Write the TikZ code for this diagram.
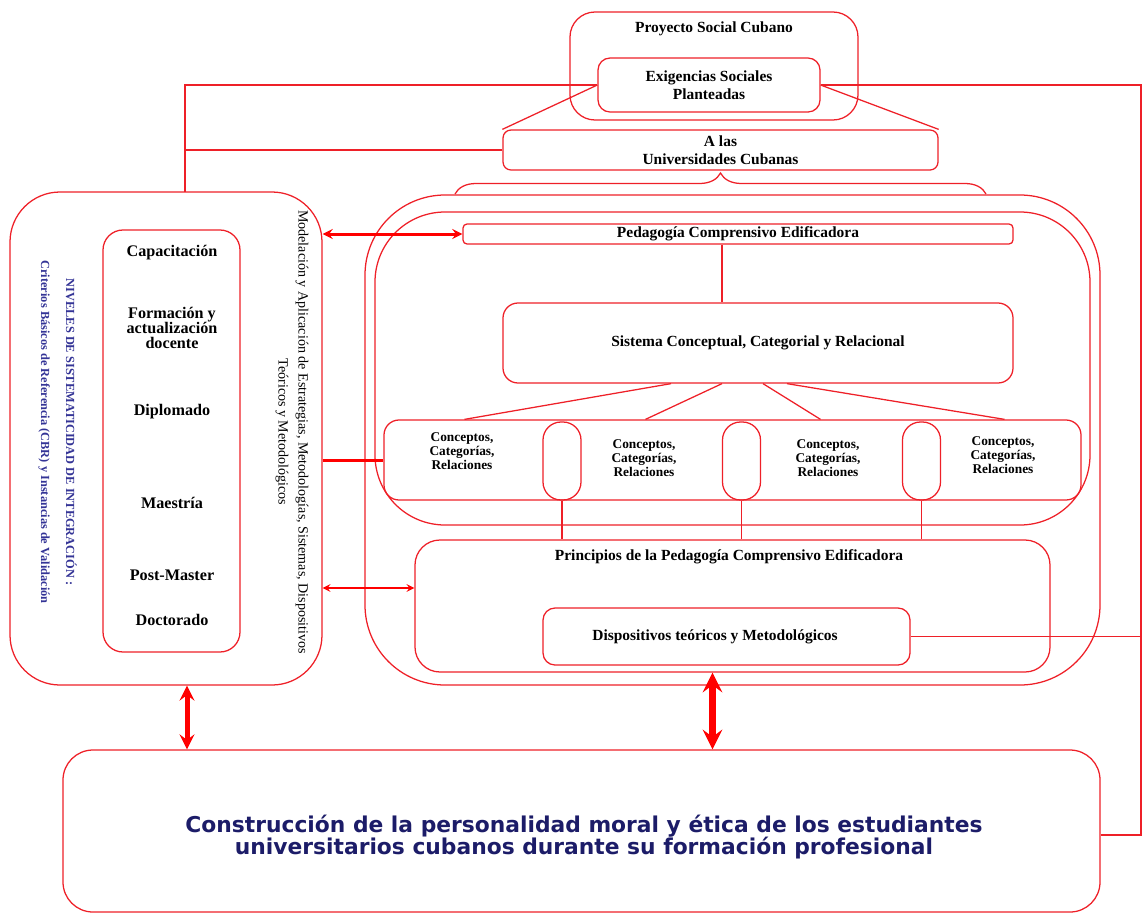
\documentclass[tikz,border=0pt]{standalone}
\usepackage{fontspec}
\setmainfont{Liberation Serif}
\newfontfamily\widesans{DejaVu Sans}
\usetikzlibrary{decorations.pathreplacing}

\definecolor{lnred}{RGB}{238,32,40}
\definecolor{navy}{RGB}{28,28,104}
\definecolor{nivblue}{RGB}{52,52,150}

\newdimen\px \px=0.025cm

\tikzset{
  box/.style={draw=lnred, line width=0.9pt, rounded corners=#1, inner sep=0pt},
  box/.default=8pt,
  ln/.style={draw=lnred, line width=0.9pt},
  lbl/.style={font=\fontsize{11}{12.5}\selectfont\bfseries, align=center, inner sep=0pt},
  ctxt/.style={font=\fontsize{9.5}{9.8}\selectfont\bfseries, align=center, inner sep=0pt},
  lvtxt/.style={font=\fontsize{11.5}{10.8}\selectfont\bfseries, align=center, inner sep=0pt},
  rottxt/.style={rotate=-90, align=center, inner sep=0pt},
  harrow/.style={<->, >=stealth, draw=red, line width=3\px},
  varrow/.style={<->, >=stealth, draw=red, line width=5\px}
}

\begin{document}
\begin{tikzpicture}[x=0.025cm, y=-0.025cm]
\useasboundingbox (0,0) rectangle (1144,915);

% cabecera
\node[box=25\px, minimum width=288\px, minimum height=108\px] (proy) at (714,66) {};
\node[lbl] (proyt) at (714,29) {Proyecto Social Cubano};
\node[box=12\px, lbl, minimum width=222\px, minimum height=54\px] (exig) at (709,85) {Exigencias Sociales\\Planteadas};
\node[box=8\px, lbl, minimum width=435\px, minimum height=40\px] (univ) at (720.5,150) {A las\\Universidades Cubanas};

\coordinate (jl) at (185,192);
\coordinate (jr) at (1141,835);
\coordinate (bl) at (455,194);
\coordinate (br) at (986,194);

% marco de la pedagogia
\node[box=80\px, minimum width=735\px, minimum height=490\px] (marco) at (732.5,440) {};
\node[box=70\px, minimum width=715\px, minimum height=313\px] (nucleo) at (732.5,368.5) {};
\node[box=4\px, lbl, minimum width=550\px, minimum height=20\px] (peda) at (738,234) {Pedagogía Comprensivo Edificadora};
\node[box=15\px, lbl, minimum width=510\px, minimum height=80\px] (sist) at (758,343) {Sistema Conceptual, Categorial y Relacional};
\node[box=15\px, minimum width=697\px, minimum height=80\px] (conc) at (732.5,460) {};
\node[box=18\px, minimum width=38\px, minimum height=78\px] (cap1) at (562,461) {};
\node[box=18\px, minimum width=38\px, minimum height=78\px] (cap2) at (741.5,461) {};
\node[box=18\px, minimum width=38\px, minimum height=78\px] (cap3) at (921.5,461) {};
\node[ctxt] (ct1) at (462,451) {Conceptos,\\Categorías,\\Relaciones};
\node[ctxt] (ct2) at (644,458) {Conceptos,\\Categorías,\\Relaciones};
\node[ctxt] (ct3) at (828,458) {Conceptos,\\Categorías,\\Relaciones};
\node[ctxt] (ct4) at (1003,455) {Conceptos,\\Categorías,\\Relaciones};

\node[box=25\px, minimum width=635\px, minimum height=132\px] (princ) at (732.5,606) {};
\node[lbl] (princt) at (729,557) {Principios de la Pedagogía Comprensivo Edificadora};
\node[box=12\px, minimum width=367\px, minimum height=57\px] (disp) at (726.5,636.5) {};
\node[lbl] (dispt) at (715,637) {Dispositivos teóricos y Metodológicos};

% niveles
\node[box=50\px, minimum width=312\px, minimum height=493\px] (niv) at (166,438.5) {};
\node[box=20\px, minimum width=137\px, minimum height=422\px] (lev) at (171.5,441) {};
\node[lvtxt] (lv1) at (172,253) {Capacitación};
\node[lvtxt] (lv2) at (172,328) {Formación y\\actualización\\docente};
\node[lvtxt] (lv3) at (172,412) {Diplomado};
\node[lvtxt] (lv4) at (172,503) {Maestría};
\node[lvtxt] (lv5) at (172,575) {Post-Master};
\node[lvtxt] (lv6) at (172,620) {Doctorado};
\node[rottxt, text=nivblue, font=\fontsize{8.8}{17.8}\selectfont\bfseries] (nivt) at (57.5,432) {NIVELES DE SISTEMATICIDAD DE INTEGRACIÓN :\\Criterios Básicos de Referencia (CBR) y Instancias de Validación};
\node[rottxt, font=\fontsize{10}{14.2}\selectfont] (modt) at (292,432) {Modelación y Aplicación de Estrategias, Metodologías, Sistemas, Dispositivos\\Teóricos y Metodológicos};

% meta
\node[box=30\px, minimum width=1037\px, minimum height=162\px] (constr) at (581.5,831) {};
\node[text=navy, align=center, inner sep=0pt,
  font=\widesans\fontsize{15.5}{16}\selectfont\bfseries] (constrt) at (584,837)
  {Construcción de la personalidad moral y ética de los estudiantes\\universitarios cubanos durante su formación profesional};

% conexiones
\draw[ln] (exig.west) -| (jl);
\draw[ln] (univ.west) -- (univ.west -| jl);
\draw[ln] (exig.west) -- (univ.north west);
\draw[ln] (exig.east) -- (univ.north east);
\draw[ln] (exig.east) -| (jr) -- (jr -| constr.east);
\draw[ln] (disp.east) -- (disp.east -| jr);
\draw[ln, decorate, decoration={brace, amplitude=21\px}] (bl) -- (br);
\draw[ln] ([xshift=-16\px]peda.south) -- ([xshift=-16\px]peda.south |- sist.north);
\draw[ln] ([xshift=-87\px]sist.south) -- ([xshift=-268\px]conc.north);
\draw[ln] ([xshift=-36\px]sist.south) -- ([xshift=-87\px]conc.north);
\draw[ln] ([xshift=5\px]sist.south) -- ([xshift=88\px]conc.north);
\draw[ln] ([xshift=29\px]sist.south) -- ([xshift=272\px]conc.north);
\draw[ln] (cap1.south) -- (cap1.south |- princ.north);
\draw[ln] (cap2.south) -- (cap2.south |- princ.north);
\draw[ln] (cap3.south) -- (cap3.south |- princ.north);

% flechas
\draw[harrow] (niv.east |- peda.west) -- (peda.west);
\draw[draw=red, line width=3\px] (niv.east |- conc.west) -- (conc.west);
\draw[harrow, line width=2\px] ([yshift=18\px]niv.east |- princ.west) -- ([yshift=18\px]princ.west);
\draw[varrow] ([xshift=21\px]niv.south) -- ([xshift=21\px]niv.south |- constr.north);
\draw[varrow, line width=7\px] ([xshift=-20\px]princ.south) -- ([xshift=-20\px]princ.south |- constr.north);

\end{tikzpicture}
\end{document}
